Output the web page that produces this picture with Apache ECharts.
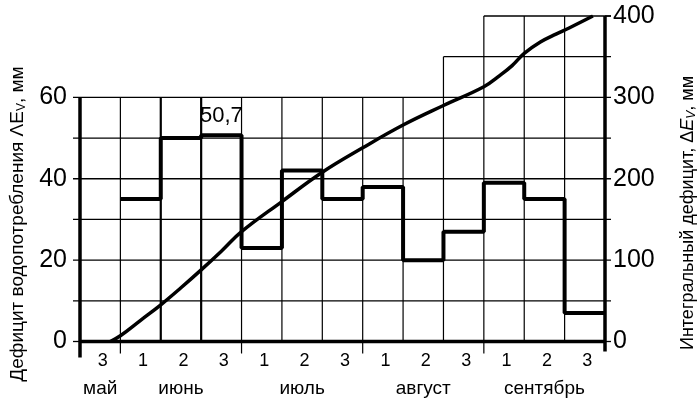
<!DOCTYPE html>
<html lang="ru">
<head>
<meta charset="UTF-8">
<title>Дефицит водопотребления</title>
<script src="https://cdn.jsdelivr.net/npm/echarts@6/dist/echarts.min.js"></script>
<style>
    html,body{margin:0;padding:0;background:#fff;}
    #chart{width:697px;height:398px;}
</style>
</head>
<body>
<div id="chart"></div>
<script>
// decades along the season and month names (placed under the middle decade)
var decades = ['3','1','2','3','1','2','3','1','2','3','1','2','3'];
var months  = ['май','','июнь','','','июль','','','август','','','сентябрь',''];
// decade deficit, mm (left axis); first decade has no value
var deficit = [null,35,50,50.7,23,42,35,38,20,27,39,35,7];
// integral deficit curve, mm (right axis); x in decade units
var cumX = [0.75,1,1.5,2,2.5,3,3.5,4,5,6,7,8,9,10,10.4,10.7,11,11.4,11.8,12.1,12.7];
var cumY = [0,7,26,45,66,88,111,135,172,208,238,266,290,313,327,339,354,368,378,385,400];
// grid levels
var gridRows = [10,20,30,40,50,60];        // left axis
var upperRows = [350,400];                 // right axis, partial rows
var upperFrom = [9,10];                    // column where they start
var monthSep = [1,4,7,10];

var nCols = decades.length;
var ratio = 80/400;   // right -> left units
var FONT = 'Liberation Sans';

var chart = echarts.init(document.getElementById('chart'));

function frame(params, api){
    var ch = [];
    function seg(a, b, w){
        ch.push({type:'line', shape:{x1:a[0],y1:a[1],x2:b[0],y2:b[1]},
                 style:{stroke:'#000', lineWidth:w}});
    }
    function P(x, v){ return api.coord([x, v]); }
    // full rows with ticks on both axes
    gridRows.forEach(function(v){
        var a = P(0, v), b = P(nCols, v);
        seg([a[0]-7, a[1]], [b[0]+6, b[1]], 1.3);
    });
    // partial rows above 300 on the right axis
    upperRows.forEach(function(v, i){
        var a = P(upperFrom[i], v*ratio), b = P(nCols, v*ratio);
        seg(a, [b[0]+6, b[1]], 1.3);
    });
    // verticals
    for (var c = 1; c < nCols; c++){
        var top = 60;
        upperRows.forEach(function(v, i){ if (c >= upperFrom[i]) top = v*ratio; });
        var w = (c === 2 || c === 3) ? 2.2 : 1.2;
        seg(P(c, 0), P(c, top), w);
    }
    // month separators below axis
    monthSep.forEach(function(c){
        var a = P(c, 0);
        seg(a, [a[0], a[1]+12], 1.2);
    });
    // axes
    var o = P(0, 0), r = P(nCols, 0);
    seg([o[0], o[1]], [r[0], r[1]], 3.5);
    var lt = P(0, 60);
    seg([lt[0], lt[1]], [o[0], o[1]+16], 3.5);
    seg([o[0]-7, o[1]], [o[0], o[1]], 1.3);
    var rt = P(nCols, 80);
    seg([rt[0], rt[1]], [r[0], r[1]+10], 3.5);
    seg([rt[0], rt[1]], [rt[0]+6, rt[1]], 1.3);
    seg([r[0], r[1]], [r[0]+6, r[1]], 1.3);
    return {type:'group', children:ch};
}

var stepData = [];
for (var i = 0; i < nCols; i++){
    if (deficit[i] !== null) stepData.push([i, deficit[i]]);
}
stepData.push([nCols, deficit[nCols-1]]);

var curveData = cumX.map(function(x, i){ return [x, cumY[i]]; });

var option = {
    animation:false,
    backgroundColor:'#fff',
    textStyle:{fontFamily:FONT, color:'#000'},
    grid:{left:80, right:92, top:16, bottom:55},
    xAxis:[
        {type:'value', min:0, max:nCols, show:false},
        {type:'category', data:decades, position:'bottom', boundaryGap:true,
         axisLine:{show:false}, axisTick:{show:false},
         axisLabel:{interval:0, margin:8, color:'#000',
            formatter:function(v, idx){ return '{d|' + v + '}\n{m|' + (months[idx] || ' ') + '}'; },
            rich:{
                d:{fontFamily:FONT, fontSize:18, lineHeight:24, color:'#000', padding:[0,0,0,5]},
                m:{fontFamily:FONT, fontSize:19, lineHeight:30, color:'#000'}
            }}}
    ],
    yAxis:[
        {type:'value', min:0, max:80, interval:20, position:'left',
         axisLine:{show:false}, axisTick:{show:false}, splitLine:{show:false},
         axisLabel:{fontFamily:FONT, fontSize:25, color:'#000', margin:13,
            formatter:function(v){ return v <= 60 ? String(v) : ''; }}},
        {type:'value', min:0, max:400, interval:100, position:'right',
         axisLine:{show:false}, axisTick:{show:false}, splitLine:{show:false},
         axisLabel:{fontFamily:FONT, fontSize:25, color:'#000', margin:8}}
    ],
    graphic:[
        {type:'text', x:18, y:224, rotation:Math.PI/2,
         style:{text:'{a|Дефицит водопотребления ΛE}{s|V}{a|, мм}', align:'center', verticalAlign:'middle',
            rich:{a:{fontFamily:FONT, fontSize:19, fill:'#000'},
                  s:{fontFamily:FONT, fontSize:12, fill:'#000', padding:[8,0,0,0]}}}},
        {type:'text', x:688, y:213, rotation:Math.PI/2,
         style:{text:'{a|Интегральный дефицит, Δ}{i|E}{s|V}{a|, мм}', align:'center', verticalAlign:'middle',
            rich:{a:{fontFamily:FONT, fontSize:18, fill:'#000'},
                  i:{fontFamily:FONT, fontSize:18, fontStyle:'italic', fill:'#000'},
                  s:{fontFamily:FONT, fontSize:12, fontStyle:'italic', fill:'#000', padding:[8,0,0,0]}}}}
    ],
    series:[
        {type:'custom', xAxisIndex:0, yAxisIndex:0, clip:false, silent:true,
         renderItem:frame, data:[0], z:1},
        {type:'line', xAxisIndex:0, yAxisIndex:1, data:curveData, smooth:0.4,
         showSymbol:false, lineStyle:{color:'#000', width:3.5}, z:3},
        {type:'line', xAxisIndex:0, yAxisIndex:0, data:stepData, step:'end',
         showSymbol:false, lineStyle:{color:'#000', width:4}, z:4},
        {type:'scatter', xAxisIndex:0, yAxisIndex:0, symbolSize:0,
         data:[[3.5, deficit[3]]], z:5,
         label:{show:true, position:'top', distance:8, color:'#000', opacity:1,
            fontFamily:FONT, fontSize:22,
            formatter:function(p){ return String(p.value[1]).replace('.', ','); }}}
    ]
};
chart.setOption(option);
</script>
</body>
</html>
